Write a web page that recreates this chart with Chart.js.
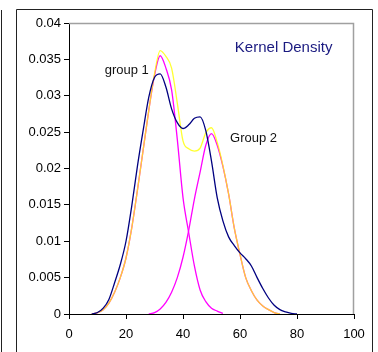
<!DOCTYPE html>
<html>
<head>
<meta charset="utf-8">
<script src="https://cdn.jsdelivr.net/npm/chart.js@4"></script>
<style>
  html, body { margin: 0; padding: 0; background: #fff; }
  canvas { display: block; }
</style>
</head>
<body>
<canvas id="densityChart" width="378" height="352"></canvas>
<script>
// x grid shared by all curves
const xs = [8, 10, 12, 14, 16, 18, 20, 22, 24, 26, 28, 30, 32, 34, 36, 38, 40, 42, 44, 46,
            48, 50, 52, 54, 56, 58, 60, 62, 64, 66, 68, 70, 72, 74, 76, 78, 80];

// kernel density of the pooled sample
const pooled = [0, 0.0002, 0.0008, 0.0020, 0.0043, 0.0068, 0.0100, 0.0148, 0.0203, 0.0252,
                0.0298, 0.0325, 0.0330, 0.0312, 0.0282, 0.0263, 0.0255, 0.0260, 0.0269, 0.0271,
                0.0252, 0.0210, 0.0160, 0.0128, 0.0106, 0.0094, 0.0084, 0.0076, 0.0066, 0.0050,
                0.0035, 0.0022, 0.0012, 0.0006, 0.0003, 0.0001, 0];

// fitted mixture (group 1 + group 2)
const mixture = [0, 0.0002, 0.0006, 0.0015, 0.0030, 0.0050, 0.0077, 0.0118, 0.0170, 0.0225,
                 0.0280, 0.0330, 0.0362, 0.0354, 0.0338, 0.0290, 0.0238, 0.0227, 0.0224, 0.0228,
                 0.0249, 0.0256, 0.0236, 0.0204, 0.0165, 0.0118, 0.0082, 0.0050, 0.0032, 0.0019,
                 0.0011, 0.0006, 0.0002, 0, null, null, null];

const group1 = [0, 0.0002, 0.0006, 0.0015, 0.0030, 0.0050, 0.0077, 0.0118, 0.0170, 0.0225,
                0.0280, 0.0328, 0.0355, 0.0338, 0.0308, 0.0240, 0.0160, 0.0112, 0.0066, 0.0033,
                0.0017, 0.0008, 0.0004, 0.0001, null, null, null, null, null, null,
                null, null, null, null, null, null, null];

const group2 = [null, null, null, null, null, null, null, null, null, null,
                0, 0.0002, 0.0007, 0.0016, 0.0030, 0.0050, 0.0078, 0.0115, 0.0158, 0.0195,
                0.0232, 0.0248, 0.0232, 0.0203, 0.0165, 0.0118, 0.0082, 0.0050, 0.0032, 0.0019,
                0.0011, 0.0006, 0.0002, 0, null, null, null];

const xTicks = [0, 20, 40, 60, 80, 100];
const yTicks = [0, 0.005, 0.01, 0.015, 0.02, 0.025, 0.03, 0.035, 0.04];

const FONT = 'Liberation Sans, Arial, sans-serif';

function points(values) {
    return xs.map((x, i) => ({ x: x, y: values[i] }));
}

function curve(label, values, color, order) {
    return {
        label: label,
        data: points(values),
        borderColor: color,
        borderWidth: 1.3,
        pointRadius: 0,
        fill: false,
        spanGaps: false,
        cubicInterpolationMode: 'monotone',
        order: order
    };
}

// Page frame, plot border and the text labels
const decorations = {
    id: 'decorations',
    beforeDraw(chart) {
        const ctx = chart.ctx;
        ctx.save();
        ctx.fillStyle = '#fff';
        ctx.fillRect(0, 0, chart.width, chart.height);
        ctx.strokeStyle = '#222';
        ctx.lineWidth = 1;
        ctx.beginPath();
        ctx.moveTo(1.5, 10);
        ctx.lineTo(1.5, 352);
        ctx.moveTo(16.5, 352);
        ctx.lineTo(16.5, 9.5);
        ctx.lineTo(372.5, 9.5);
        ctx.lineTo(372.5, 352);
        ctx.stroke();
        ctx.restore();
    },
    afterDatasetsDraw(chart) {
        const ctx = chart.ctx;
        const a = chart.chartArea;
        const x = chart.scales.x;
        const y = chart.scales.y;
        ctx.save();
        ctx.strokeStyle = '#a0a0a0';
        ctx.lineWidth = 1.5;
        ctx.beginPath();
        ctx.moveTo(a.left, a.top + 0.5);
        ctx.lineTo(a.right - 0.5, a.top + 0.5);
        ctx.lineTo(a.right - 0.5, a.bottom);
        ctx.stroke();

        ctx.textBaseline = 'alphabetic';
        ctx.fillStyle = '#1a1a80';
        ctx.font = '15px ' + FONT;
        ctx.textAlign = 'left';
        ctx.fillText('Kernel Density', x.getPixelForValue(58.2), y.getPixelForValue(0.036));

        ctx.fillStyle = '#111';
        ctx.font = '13px ' + FONT;
        ctx.textAlign = 'right';
        ctx.fillText('group 1', x.getPixelForValue(28), y.getPixelForValue(0.033));
        ctx.textAlign = 'left';
        ctx.fillText('Group 2', x.getPixelForValue(56.5), y.getPixelForValue(0.0236));
        ctx.restore();
    }
};

const ctx = document.getElementById('densityChart').getContext('2d');
new Chart(ctx, {
    type: 'line',
    data: {
        datasets: [
            curve('Kernel Density', pooled, '#000080', 0),
            curve('Mixture', mixture, 'rgba(255, 255, 0, 0.8)', 1),
            curve('group 1', group1, '#ff00ff', 2),
            curve('Group 2', group2, '#ff00ff', 3)
        ]
    },
    options: {
        responsive: false,
        animation: false,
        layout: { padding: { left: 16, right: 24, top: 23, bottom: 0 } },
        plugins: {
            legend: { display: false },
            tooltip: { enabled: false }
        },
        scales: {
            x: {
                type: 'linear',
                min: 0,
                max: 100,
                afterBuildTicks(scale) {
                    scale.ticks = xTicks.map(v => ({ value: v }));
                },
                afterFit(scale) { scale.height = 38; },
                ticks: {
                    color: '#000',
                    font: { size: 13, family: FONT },
                    padding: 8,
                    maxRotation: 0,
                    callback: v => String(v)
                },
                grid: { drawOnChartArea: false, tickLength: 5, color: '#000' },
                border: { color: '#000', width: 1 }
            },
            y: {
                type: 'linear',
                min: 0,
                max: 0.04,
                afterBuildTicks(scale) {
                    scale.ticks = yTicks.map(v => ({ value: v }));
                },
                afterFit(scale) { scale.width = 53; },
                ticks: {
                    color: '#000',
                    font: { size: 13, family: FONT },
                    padding: 3,
                    callback: v => String(+v.toFixed(3))
                },
                grid: { drawOnChartArea: false, tickLength: 5, color: '#000' },
                border: { color: '#000', width: 1 }
            }
        }
    },
    plugins: [decorations]
});
</script>
</body>
</html>
